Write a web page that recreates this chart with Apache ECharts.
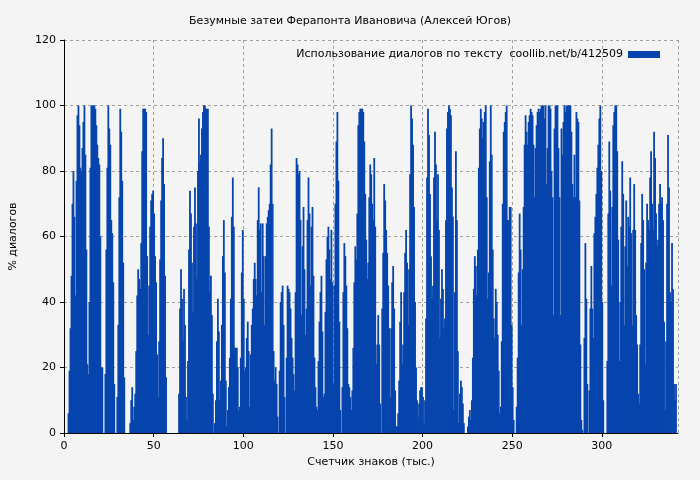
<!DOCTYPE html>
<html>
<head>
<meta charset="utf-8">
<script src="https://cdn.jsdelivr.net/npm/echarts@6/dist/echarts.min.js"></script>
<style>
  html, body { margin: 0; padding: 0; background: #f4f4f4; }
  #chart { width: 700px; height: 480px; }
</style>
</head>
<body>
<div id="chart"></div>
<script>
// % диалогов, одно значение на каждые ~0.556 тыс. знаков (по пикселю исходника)
const step = 1 / 1.8
const dialogPercent = [
  0,0,0,0,
  6,19,32,48,70,80,66,42,77,97,100,94,81,80,87,95,100,85,56,21,18,40,81,100,100,100,100,99,94,88,84,82,60,20,20,
  0,0,
  18,56,81,100,93,88,65,61,46,15,
  0,0,
  11,33,72,99,92,77,52,17,
  0,0,0,0,0,
  3,10,14,4,8,
  12,25,42,50,47,44,58,86,99,99,99,98,54,30,45,63,71,73,74,67,54,46,24,11,28,53,71,
  84,90,76,48,17,
  0,0,0,0,0,0,0,0,0,0,0,0,
  12,38,50,41,28,44,33,11,4,22,56,74,67,52,37,63,75,64,47,80,
  96,83,85,93,98,100,100,99,99,99,63,43,48,36,12,0,3,10,28,41,
  31,10,16,33,54,65,49,16,2,7,14,23,41,66,78,63,26,26,26,20,
  7,8,23,49,62,41,19,20,29,34,25,8,24,33,38,47,52,47,42,65,75,62,64,
  43,64,54,33,54,64,66,68,70,82,93,70,25,16,20,15,5,0,19,40,
  43,45,33,11,0,23,45,44,43,38,29,23,18,13,43,84,82,79,80,65,
  36,57,69,50,30,38,65,78,67,45,63,69,48,23,14,8,7,22,34,43,
  48,31,11,12,37,53,60,63,56,47,62,46,15,45,70,89,98,77,34,7,
  0,14,43,58,54,45,32,15,14,11,7,13,26,46,57,53,67,94,98,99,
  99,99,98,89,73,59,47,52,72,82,79,70,65,84,63,21,27,36,27,9,
  0,38,55,76,71,62,55,45,32,11,32,46,51,38,13,2,2,6,16,34,
  43,21,27,43,55,62,52,33,50,79,100,96,88,69,40,20,10,5,9,13,
  14,14,11,3,10,35,78,99,91,73,54,41,45,78,92,82,65,79,62,29,
  41,50,44,32,35,65,93,98,100,99,97,75,66,7,43,86,65,25,3,
  12,16,14,9,3,0,0,0,2,5,7,4,10,23,44,54,51,42,56,81,
  93,99,96,90,95,98,100,72,41,49,83,100,85,56,35,29,44,40,30,19,
  6,8,28,70,92,95,98,100,65,65,69,69,33,14,4,0,0,8,23,49,
  67,56,33,50,69,88,97,92,88,95,97,99,98,97,88,72,87,94,98,99,
  98,99,100,100,100,96,100,76,87,100,100,99,80,72,36,93,100,
  100,100,87,72,36,93,85,95,100,98,100,100,100,
  100,100,92,76,72,85,72,98,96,95,71,27,4,1,0,29,58,41,15,0,
  13,38,51,38,29,61,66,73,81,88,96,100,80,40,10,0,0,0,22,67,
  89,74,45,69,94,98,100,100,86,59,22,40,63,83,73,33,57,71,51,66,
  63,78,61,33,62,76,62,36,27,12,9,27,58,73,65,50,21,52,70,65,
  62,78,86,70,62,92,84,67,57,59,70,76,70,72,65,34,7,28,70,91,
  75,43,40,58,44,15,10,15
]

const chart = echarts.init(document.getElementById('chart'))
const font = 'DejaVu Sans'
const gridLine = { show: true, lineStyle: { color: '#a0a0a0', type: [3, 3], width: 1 } }

chart.setOption({
  backgroundColor: '#f4f4f4',
  animation: false,
  textStyle: { fontFamily: font },
  title: {
    text: 'Безумные затеи Ферапонта Ивановича (Алексей Югов)',
    left: 'center', top: 11,
    textStyle: { fontSize: 11, fontWeight: 'normal', color: '#000', fontFamily: font }
  },
  legend: {
    right: 35, top: 44, align: 'right',
    itemWidth: 32, itemHeight: 7, itemGap: 6,
    icon: 'rect',
    textStyle: { fontSize: 11, color: '#000', fontFamily: font },
    data: ['Использование диалогов по тексту  coollib.net/b/412509']
  },
  grid: { left: 62, right: 22, top: 40, bottom: 47 },
  xAxis: {
    type: 'value', min: 0, max: 342.5, interval: 50,
    name: 'Счетчик знаков (тыс.)', nameLocation: 'middle', nameGap: 24,
    nameTextStyle: { fontSize: 11, color: '#000' },
    axisLine: { lineStyle: { color: '#000' } },
    axisTick: { show: true, length: 4, lineStyle: { color: '#000' } },
    axisLabel: { fontSize: 11, color: '#000', showMaxLabel: false },
    splitLine: gridLine
  },
  yAxis: {
    type: 'value', min: 0, max: 120, interval: 20,
    name: '% диалогов', nameLocation: 'middle', nameGap: 45,
    nameTextStyle: { fontSize: 11, color: '#000' },
    axisLine: { show: true, lineStyle: { color: '#000' } },
    axisTick: { show: true, length: 4, lineStyle: { color: '#000' } },
    axisLabel: { fontSize: 11, color: '#000' },
    splitLine: gridLine
  },
  series: [{
    name: 'Использование диалогов по тексту  coollib.net/b/412509',
    type: 'bar',
    barWidth: 1.8,
    itemStyle: { color: '#0645ad' },
    data: dialogPercent.map((v, i) => [i * step + step / 2, v])
  }]
})
</script>
</body>
</html>
